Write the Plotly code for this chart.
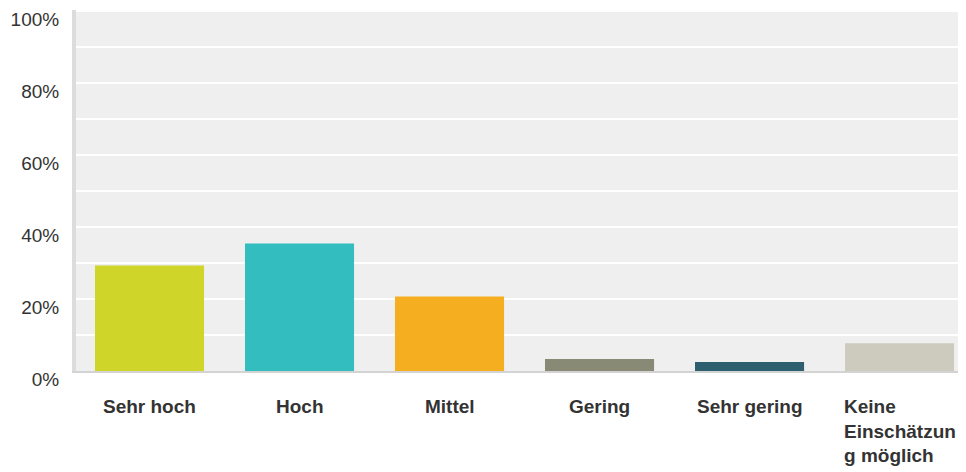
import plotly.graph_objects as go

categories = ["Sehr hoch", "Hoch", "Mittel", "Gering", "Sehr gering", "Keine Einschätzung möglich"]
tick_labels = ["Sehr hoch", "Hoch", "Mittel", "Gering", "Sehr gering", "Keine<br>Einschätzun<br>g möglich"]
values = [0.293, 0.354, 0.207, 0.033, 0.025, 0.077]
colors = ["#d0d52a", "#33bdbf", "#f5ae20", "#888a75", "#2e5f6e", "#cdcbbd"]
y_ticks = [0, 0.2, 0.4, 0.6, 0.8, 1.0]
y_tick_text = ["0%", "20%", "40%", "60%", "80%", "100%"]

FONT = "Liberation Sans, Arial, Helvetica, sans-serif"
x_idx = list(range(len(categories)))

fig = go.Figure(go.Bar(
    x=x_idx, y=values, marker=dict(color=colors, line=dict(width=0)),
    width=0.727, hovertext=categories, hoverinfo="text+y",
))

for i, lab in enumerate(tick_labels):
    fig.add_annotation(
        x=i, xref="x", y=0, yref="paper", yanchor="top", xanchor="center",
        yshift=-23, text="<b>" + lab + "</b>", showarrow=False, align="left",
        font=dict(family=FONT, size=19, color="#333333"),
    )

fig.update_layout(
    width=958, height=464,
    margin=dict(l=68, r=0, t=2, b=101),
    paper_bgcolor="white", plot_bgcolor="#efefef",
    showlegend=False,
    font=dict(family=FONT, size=19, color="#333333"),
    xaxis=dict(range=[-0.49, 5.443], showticklabels=False, showgrid=False,
               zeroline=False, showline=True, linecolor="#d3d3d3", linewidth=2,
               ticks=""),
    yaxis=dict(range=[0, 1.003], tickvals=y_ticks, ticktext=y_tick_text,
               showgrid=True, gridcolor="white", gridwidth=2,
               minor=dict(dtick=0.1, showgrid=True, gridcolor="white", gridwidth=2),
               zeroline=False, showline=True, linecolor="#dcdcdc", linewidth=4,
               ticks="", ticklabelstandoff=9, ticklabelshift=8,
               tickfont=dict(family=FONT, size=19, color="#333333")),
)

fig.write_html("out.html")
